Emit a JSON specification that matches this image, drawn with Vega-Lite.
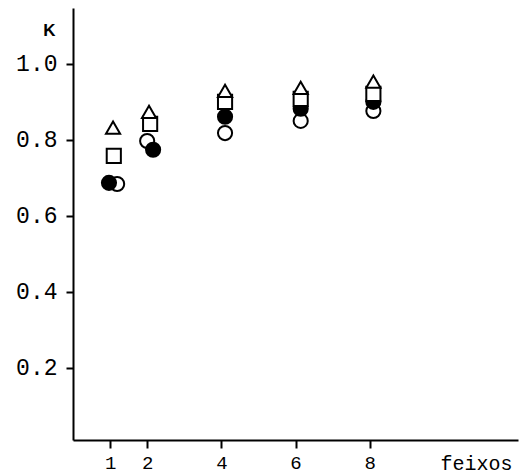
{
  "$schema": "https://vega.github.io/schema/vega-lite/v6.json",
  "autosize": {"type": "none"},
  "width": 445,
  "height": 432,
  "padding": {"left": 73, "top": 8, "right": 9, "bottom": 35},
  "background": "white",
  "config": {"view": {"stroke": null}},
  "data": {
    "values": [
      {"feixos": 1.19, "K": 0.684, "serie": "aberto"},
      {"feixos": 2.0, "K": 0.797, "serie": "aberto"},
      {"feixos": 4.1, "K": 0.818, "serie": "aberto"},
      {"feixos": 6.14, "K": 0.850, "serie": "aberto"},
      {"feixos": 8.1, "K": 0.876, "serie": "aberto"},
      {"feixos": 0.97, "K": 0.687, "serie": "cheio"},
      {"feixos": 2.16, "K": 0.774, "serie": "cheio"},
      {"feixos": 4.1, "K": 0.861, "serie": "cheio"},
      {"feixos": 6.14, "K": 0.882, "serie": "cheio"},
      {"feixos": 8.1, "K": 0.900, "serie": "cheio"},
      {"feixos": 1.1, "K": 0.758, "serie": "quadrado"},
      {"feixos": 2.08, "K": 0.842, "serie": "quadrado"},
      {"feixos": 4.1, "K": 0.900, "serie": "quadrado"},
      {"feixos": 6.14, "K": 0.908, "serie": "quadrado"},
      {"feixos": 8.1, "K": 0.921, "serie": "quadrado"},
      {"feixos": 1.08, "K": 0.832, "serie": "triangulo"},
      {"feixos": 2.05, "K": 0.874, "serie": "triangulo"},
      {"feixos": 4.1, "K": 0.929, "serie": "triangulo"},
      {"feixos": 6.14, "K": 0.937, "serie": "triangulo"},
      {"feixos": 8.1, "K": 0.953, "serie": "triangulo"}
    ]
  },
  "mark": {"type": "point", "filled": true, "stroke": "black", "strokeWidth": 2, "opacity": 1},
  "encoding": {
    "x": {
      "field": "feixos", "type": "quantitative",
      "scale": {"domain": [0, 12], "nice": false, "zero": false},
      "axis": {
        "values": [1, 2, 4, 6, 8], "format": "d", "grid": false,
        "domainColor": "black", "domainWidth": 2, "tickColor": "black", "tickWidth": 2, "tickSize": 8,
        "labelFont": "Liberation Mono", "labelFontSize": 19, "labelColor": "black", "labelPadding": 5,
        "title": "feixos", "titleFont": "Liberation Mono", "titleFontSize": 20, "titleFontWeight": "normal",
        "titleColor": "black", "titleX": 403, "titleY": 23, "titleAlign": "center", "titleBaseline": "middle"
      }
    },
    "y": {
      "field": "K", "type": "quantitative",
      "scale": {"domain": [0.0105, 1.147], "nice": false, "zero": false},
      "axis": {
        "values": [0.2, 0.4, 0.6, 0.8, 1.0], "format": ".1f", "grid": false,
        "domainColor": "black", "domainWidth": 2, "tickColor": "black", "tickWidth": 2, "tickSize": 7,
        "labelFont": "Liberation Mono", "labelFontSize": 23, "labelColor": "black", "labelPadding": 9,
        "title": "K", "titleFont": "Liberation Sans", "titleFontSize": 17, "titleFontWeight": "bold",
        "titleColor": "black", "titleAngle": 0, "titleX": -24, "titleY": 22, "titleAlign": "center", "titleBaseline": "middle"
      }
    },
    "shape": {
      "field": "serie", "type": "nominal", "legend": null,
      "scale": {"domain": ["aberto", "cheio", "quadrado", "triangulo"], "range": ["circle", "circle", "square", "triangle-up"]}
    },
    "fill": {
      "field": "serie", "type": "nominal", "legend": null,
      "scale": {"domain": ["aberto", "cheio", "quadrado", "triangulo"], "range": ["white", "black", "white", "white"]}
    },
    "size": {
      "field": "serie", "type": "nominal", "legend": null,
      "scale": {"domain": ["aberto", "cheio", "quadrado", "triangulo"], "range": [200, 200, 125, 150]}
    }
  }
}
